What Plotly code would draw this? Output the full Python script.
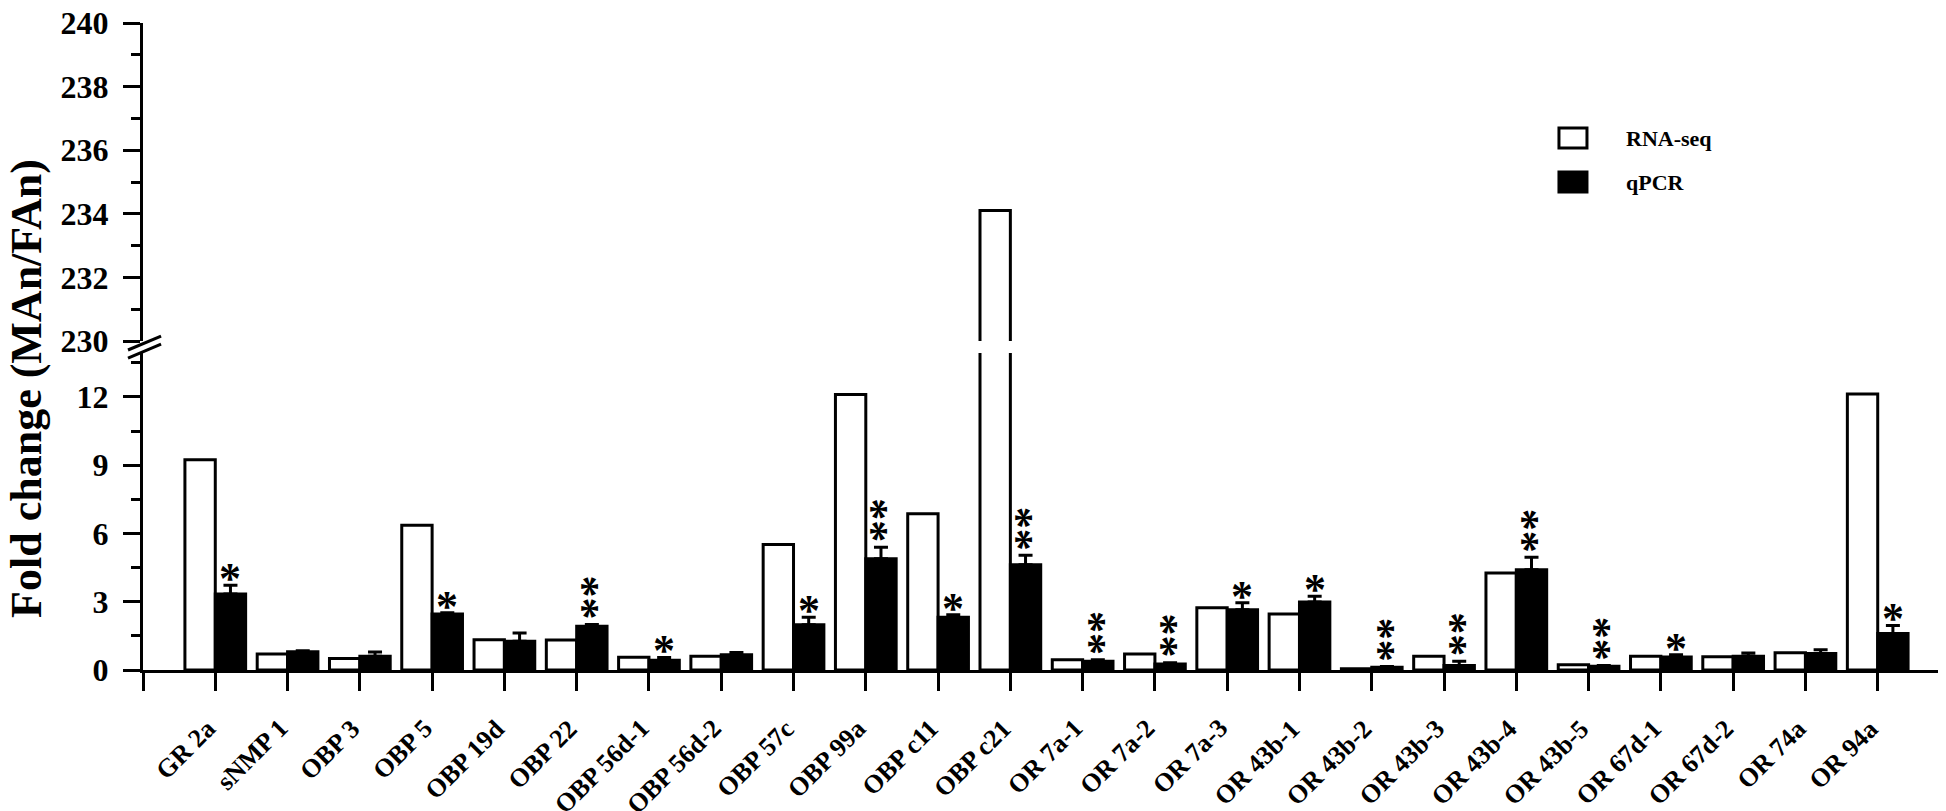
import plotly.graph_objects as go

categories = ["GR 2a", "sNMP 1", "OBP 3", "OBP 5", "OBP 19d", "OBP 22", "OBP 56d-1",
              "OBP 56d-2", "OBP 57c", "OBP 99a", "OBP c11", "OBP c21", "OR 7a-1",
              "OR 7a-2", "OR 7a-3", "OR 43b-1", "OR 43b-2", "OR 43b-3", "OR 43b-4",
              "OR 43b-5", "OR 67d-1", "OR 67d-2", "OR 74a", "OR 94a"]
rna_seq = [9.24, 0.70, 0.50, 6.36, 1.33, 1.32, 0.56, 0.60, 5.51, 12.10, 6.87, 234.1,
           0.45, 0.70, 2.73, 2.46, 0.06, 0.60, 4.26, 0.23, 0.60, 0.58, 0.76, 12.13]
qpcr = [3.34, 0.80, 0.60, 2.46, 1.26, 1.92, 0.43, 0.67, 1.99, 4.89, 2.32, 4.63,
        0.38, 0.26, 2.65, 2.99, 0.12, 0.20, 4.41, 0.16, 0.57, 0.60, 0.72, 1.60]
qpcr_err = [0.38, 0.05, 0.19, 0.06, 0.37, 0.08, 0.12, 0.10, 0.33, 0.50, 0.11, 0.41,
            0.07, 0.06, 0.30, 0.25, 0.03, 0.18, 0.54, 0.04, 0.10, 0.15, 0.17, 0.36]
stars = [1, 0, 0, 1, 0, 2, 1, 0, 1, 2, 1, 2, 2, 2, 1, 1, 2, 2, 2, 2, 1, 0, 0, 1]

lower_ticks = [0, 3, 6, 9, 12]
upper_ticks = [230, 232, 234, 236, 238, 240]

FONT = "Liberation Serif"
BW = 0.42
xpos = list(range(1, len(categories) + 1))
n = len(categories)

fig = go.Figure()
# lower panel
fig.add_trace(go.Bar(x=xpos, y=rna_seq, name="RNA-seq", offset=-BW, width=BW,
                     marker=dict(color="white", line=dict(color="black", width=3)),
                     xaxis="x", yaxis="y", showlegend=False))
fig.add_trace(go.Bar(x=xpos, y=qpcr, name="qPCR", offset=0, width=BW,
                     marker=dict(color="black", line=dict(color="black", width=3)),
                     error_y=dict(type="data", array=qpcr_err, symmetric=False,
                                  arrayminus=[0] * n, color="black", thickness=3, width=7),
                     xaxis="x", yaxis="y", showlegend=False))
# upper panel (broken axis)
fig.add_trace(go.Bar(x=xpos, y=rna_seq, name="RNA-seq", offset=-BW, width=BW,
                     marker=dict(color="white", line=dict(color="black", width=3)),
                     xaxis="x", yaxis="y2", showlegend=False))

# significance asterisks (double ones stacked by rotating the text)
for i, s in enumerate(stars):
    if s == 0:
        continue
    if s == 1:
        fig.add_annotation(x=xpos[i] + BW / 2, y=qpcr[i] + qpcr_err[i], xref="x", yref="y",
                           text="*", showarrow=False, yanchor="bottom", yshift=-20,
                           font=dict(family=FONT, size=44, color="black", weight="bold"))
    else:
        fig.add_annotation(x=xpos[i] + BW / 2, y=qpcr[i] + qpcr_err[i], xref="x", yref="y",
                           text="**", textangle=90, showarrow=False, yanchor="bottom",
                           yshift=3, xshift=-8,
                           font=dict(family=FONT, size=44, color="black", weight="bold"))

# category labels, rotated, under the x axis
for xp, label in zip(xpos, categories):
    fig.add_annotation(x=xp, y=-0.0634, xref="x", yref="paper", text=label, textangle=-45,
                       showarrow=False, xanchor="right", yanchor="top", xshift=9,
                       font=dict(family=FONT, size=26, color="black", weight="bold"))

tickfont = dict(family=FONT, size=32, color="black", weight="bold")
axis_common = dict(showline=True, linewidth=3, linecolor="black", ticks="outside",
                   tickwidth=3, tickcolor="black", showgrid=False, zeroline=False,
                   automargin=False, ticklabeloverflow="allow")

fig.update_layout(
    width=1946, height=811,
    margin=dict(l=135, r=4, t=15, b=149, autoexpand=False),
    paper_bgcolor="white", plot_bgcolor="white",
    barmode="overlay",
    xaxis=dict(range=[0, 25], tickmode="array", tickvals=list(range(0, 26)),
               showticklabels=False, ticklen=18, anchor="y", **axis_common),
    yaxis=dict(domain=[0, 0.49], range=[0, 13.93], tickmode="array", tickvals=lower_ticks,
               ticklen=17, tickfont=tickfont, anchor="x", ticklabelstandoff=8,
               minor=dict(tickvals=[1.5, 4.5, 7.5, 10.5, 13.5], ticklen=9, tickwidth=3,
                          ticks="outside", tickcolor="black"),
               **axis_common),
    yaxis2=dict(domain=[0.5085, 1], range=[230, 240], tickmode="array", tickvals=upper_ticks,
                ticklen=17, tickfont=tickfont, anchor="x", ticklabelstandoff=8,
                minor=dict(tickvals=[231, 233, 235, 237, 239], ticklen=9, tickwidth=3,
                           ticks="outside", tickcolor="black"),
                **axis_common),
)

# y-axis title
fig.add_annotation(text="Fold change (MAn/FAn)", textangle=-90, xref="paper", yref="paper",
                   x=-0.0642, y=0.436, xanchor="center", yanchor="middle", showarrow=False,
                   font=dict(family=FONT, size=44, color="black", weight="bold"))

# axis break marks
for y0, y1 in [(0.4946, 0.5162), (0.4822, 0.5038)]:
    fig.add_shape(type="line", xref="paper", yref="paper", x0=-0.0083, x1=0.0100,
                  y0=y0, y1=y1, line=dict(color="black", width=3))

# legend (drawn)
legend_items = [("RNA-seq", "white", 0.8377, 0.8068), ("qPCR", "black", 0.7697, 0.7388)]
for label, fill, ytop, ybot in legend_items:
    fig.add_shape(type="rect", xref="paper", yref="paper", x0=0.7836, x1=0.7991,
                  y0=ybot, y1=ytop, fillcolor=fill, line=dict(color="black", width=3))
    fig.add_annotation(text=label, xref="paper", yref="paper", x=0.8195,
                       y=(ytop + ybot) / 2, xanchor="left", yanchor="middle", showarrow=False,
                       font=dict(family=FONT, size=22, color="black", weight="bold"))

fig.write_html("out.html")
